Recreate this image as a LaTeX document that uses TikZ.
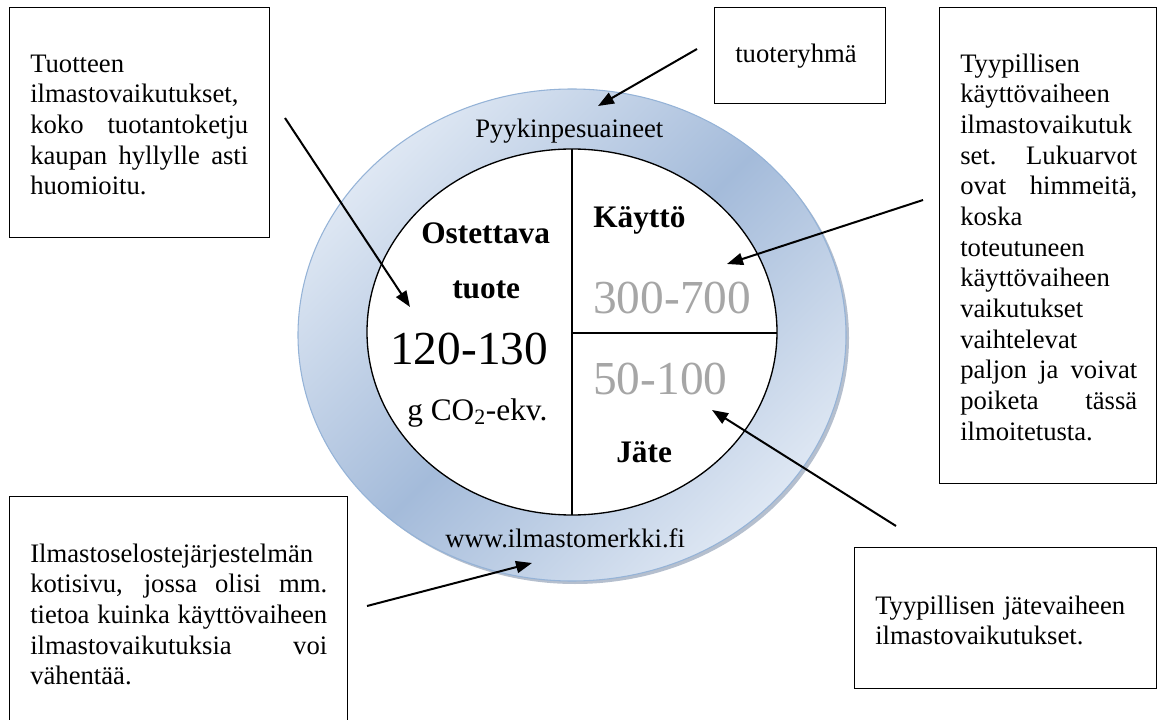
\documentclass[tikz,border=0pt]{standalone}
\usepackage{fontspec}
\setmainfont{Liberation Serif}
\usetikzlibrary{arrows.meta}
\definecolor{ringlight}{RGB}{222,231,243}
\definecolor{ringdark}{RGB}{164,187,218}
\definecolor{ringedge}{RGB}{149,179,215}
\definecolor{numgray}{RGB}{166,166,166}
\definecolor{shadowc}{RGB}{120,138,165}
\tolerance=10000
\hyphenpenalty=10000
\begin{document}
\begin{tikzpicture}[x=0.75pt,y=-0.75pt,
  boxframe/.style={draw=black,line width=1pt,fill=white,inner sep=0pt,anchor=north west},
  boxtext/.style={inner sep=0pt,anchor=north west,align=justify,
    font=\fontsize{20}{23}\selectfont},
  plain/.style={inner sep=0pt,anchor=base west,font=\fontsize{20}{23}\selectfont},
  heading/.style={inner sep=0pt,anchor=base west,font=\fontsize{23.5}{27}\selectfont\bfseries},
  bignum/.style={inner sep=0pt,anchor=base west,font=\fontsize{35.5}{40}\selectfont},
  pointer/.style={line width=1.5pt,-{Triangle[length=12pt,width=9pt]}}]
\useasboundingbox (0,0) rectangle (1157,720);

% ring
\fill[shadowc,opacity=0.55] (575,338) ellipse [x radius=274,y radius=246];
\path[top color=ringlight,bottom color=ringlight,middle color=ringdark,shading angle=45,
      draw=ringedge,line width=0.8pt] (572,335) ellipse [x radius=274,y radius=246];
\draw[line width=1pt,fill=white] (572,332) ellipse [x radius=205,y radius=183];
\draw[line width=1pt] (572,149) -- (572,515);
\draw[line width=1pt] (572,333) -- (777,333);

% texts in ring
\node[plain] (group) at (475,138) {Pyykinpesuaineet};
\node[plain] (web) at (445,547) {www.ilmastomerkki.fi};
\node[heading] (ost) at (421,244) {Ostettava};
\node[heading] (tuote) at (452,299) {tuote};
\node[bignum] (val) at (390,364) {120-130};
\node[inner sep=0pt,anchor=base west,font=\fontsize{23.5}{27}\selectfont] (unit) at (407,420) {g CO\textsubscript{2}-ekv.};
\node[heading] (use) at (593,228) {Käyttö};
\node[bignum,text=numgray] (useval) at (593,314) {300-700};
\node[bignum,text=numgray] (wasteval) at (593,394) {50-100};
\node[heading] (waste) at (616,462) {Jäte};

% boxes
\node[boxframe,minimum width=195pt,minimum height=172.5pt] (b1) at (9,7) {};
\node[boxtext,text width=163.5pt] (t1) at (30,50.5) {\noindent\strut Tuotteen\linebreak ilmastovaikutukset,\linebreak koko tuotantoketju\linebreak kaupan hyllylle asti\linebreak huomioitu.};

\node[boxframe,minimum width=128.25pt,minimum height=72pt] (b2) at (714,7) {};
\node[plain] (t2) at (735,63) {tuoteryhmä};

\node[boxframe,minimum width=162.75pt,minimum height=357pt] (b3) at (939,7) {};
\node[boxtext,text width=132.75pt] (t3) at (960,50.5) {\noindent\strut Tyypillisen\linebreak käyttövaiheen\linebreak ilmastovaikutuk\linebreak set. Lukuarvot\linebreak ovat himmeitä,\linebreak koska\linebreak toteutuneen\linebreak käyttövaiheen\linebreak vaikutukset\linebreak vaihtelevat\linebreak paljon ja voivat\linebreak poiketa tässä\linebreak ilmoitetusta.};

\node[boxframe,minimum width=253.5pt,minimum height=198pt] (b4) at (9,496) {};
\node[boxtext,text width=222.75pt] (t4) at (30,540.5) {\noindent\strut Ilmastoselostejärjestelmän\linebreak kotisivu, jossa olisi mm.\linebreak tietoa kuinka käyttövaiheen\linebreak ilmastovaikutuksia voi\linebreak vähentää.};

\node[boxframe,minimum width=226.5pt,minimum height=105.75pt] (b5) at (854,547) {};
\node[boxtext,text width=200pt,align=left] (t5) at (875,592.5) {\noindent\strut Tyypillisen jätevaiheen\linebreak ilmastovaikutukset.};

% arrows
\coordinate (a1t) at (285,118); \coordinate (a1h) at (410,307);
\coordinate (a2t) at (697,49);  \coordinate (a2h) at (598,106);
\coordinate (a3t) at (923,200); \coordinate (a3h) at (727,264);
\coordinate (a4t) at (896,526); \coordinate (a4h) at (712,410);
\coordinate (a5t) at (367,606); \coordinate (a5h) at (532,563);
\draw[pointer] (a1t) -- (a1h);
\draw[pointer] (a2t) -- (a2h);
\draw[pointer] (a3t) -- (a3h);
\draw[pointer] (a4t) -- (a4h);
\draw[pointer] (a5t) -- (a5h);
\end{tikzpicture}
\end{document}
